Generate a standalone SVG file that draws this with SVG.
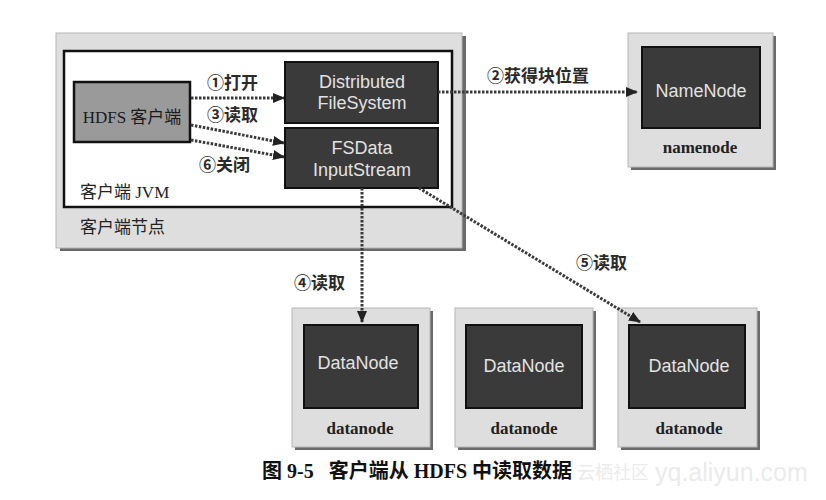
<svg xmlns="http://www.w3.org/2000/svg" width="826" height="500" viewBox="0 0 826 500">
<defs>
<marker id="ah" markerWidth="12" markerHeight="10" refX="11" refY="5" orient="auto" markerUnits="userSpaceOnUse">
<path d="M0,0 L12,5 L0,10 Z" fill="#222"/>
</marker>
<style>
.shadow{fill:#6a6a6a}
.machine{fill:#dedede;stroke:#b5b5b5;stroke-width:1}
.dark{fill:#3a3a3a;stroke:#111;stroke-width:2}
.dtxt{font-family:"Liberation Sans",Arial,sans-serif;font-size:18px;fill:#e2e2e2;text-anchor:middle}
.btxt{font-family:"Liberation Serif","Noto Sans CJK SC",serif;font-weight:bold;font-size:17px;fill:#222;text-anchor:middle}
.lbl{font-family:"Liberation Serif","Noto Sans CJK SC",serif;font-size:17px;font-weight:bold;fill:#2a2a2a}
.edge{fill:none;stroke:#3a3a3a;stroke-width:3;stroke-dasharray:2.5 1.5}
.wm{font-family:"Liberation Sans","Noto Sans CJK SC",sans-serif;fill:#ebebeb}
</style>
</defs>
<rect width="826" height="500" fill="#fff"/>

<g id="client-node">
<rect class="shadow" x="60" y="36" width="406" height="215"/>
<rect class="machine" x="56" y="33" width="406" height="215"/>
<text x="80" y="233" font-family="'Liberation Serif','Noto Sans CJK SC',serif" font-size="17" fill="#222">客户端节点</text>
</g>

<g id="client-jvm">
<rect x="64" y="51" width="388" height="156" fill="#fff" stroke="#111" stroke-width="2.5"/>
<text x="80" y="198" font-family="'Liberation Serif','Noto Sans CJK SC',serif" font-size="17" fill="#222">客户端 JVM</text>
</g>

<g id="hdfs-client">
<rect x="74" y="82" width="116" height="60" fill="#9a9a9a" stroke="#111" stroke-width="2.5"/>
<text x="132" y="123" font-family="Liberation Serif,'Noto Sans CJK SC',serif" font-size="17" fill="#1a1a1a" text-anchor="middle">HDFS 客户端</text>
</g>

<g id="distributed-fs">
<rect class="dark" x="285" y="62" width="153" height="61"/>
<text class="dtxt" x="362" y="88">Distributed</text>
<text class="dtxt" x="362" y="109">FileSystem</text>
</g>

<g id="fsdata-inputstream">
<rect class="dark" x="285" y="128" width="153" height="60"/>
<text class="dtxt" x="362" y="154">FSData</text>
<text class="dtxt" x="362" y="176">InputStream</text>
</g>

<g id="namenode">
<rect class="shadow" x="631" y="36" width="145" height="134"/>
<rect class="machine" x="628" y="33" width="145" height="134"/>
<rect class="dark" x="642" y="47" width="118" height="81"/>
<text class="dtxt" x="701" y="97">NameNode</text>
<text class="btxt" x="700" y="153">namenode</text>
</g>

<g id="datanode1">
<rect class="shadow" x="295" y="311" width="138" height="139"/>
<rect class="machine" x="292" y="308" width="138" height="139"/>
<rect class="dark" x="304" y="325" width="114" height="83"/>
<text class="dtxt" x="358" y="369">DataNode</text>
<text class="btxt" x="360" y="434">datanode</text>
</g>

<g id="datanode2">
<rect class="shadow" x="458" y="311" width="138" height="139"/>
<rect class="machine" x="455" y="308" width="138" height="139"/>
<rect class="dark" x="466" y="325" width="116" height="83"/>
<text class="dtxt" x="524" y="372">DataNode</text>
<text class="btxt" x="524" y="434">datanode</text>
</g>

<g id="datanode3">
<rect class="shadow" x="621" y="311" width="139" height="139"/>
<rect class="machine" x="618" y="308" width="139" height="139"/>
<rect class="dark" x="629" y="325" width="116" height="83"/>
<text class="dtxt" x="689" y="372">DataNode</text>
<text class="btxt" x="689" y="434">datanode</text>
</g>

<g id="connectors">
<line class="edge" x1="191" y1="98" x2="284" y2="98" marker-end="url(#ah)"/>
<line class="edge" x1="191" y1="125" x2="284" y2="143" marker-end="url(#ah)"/>
<line class="edge" x1="191" y1="140" x2="284" y2="157" marker-end="url(#ah)"/>
<line class="edge" x1="438" y1="92" x2="637" y2="92" marker-end="url(#ah)"/>
<line class="edge" x1="362" y1="188" x2="362" y2="322" marker-end="url(#ah)"/>
<line class="edge" x1="419" y1="188" x2="640" y2="322" marker-end="url(#ah)"/>
<text class="lbl" x="207" y="89">①打开</text>
<text class="lbl" x="207" y="121">③读取</text>
<text class="lbl" x="199" y="171">⑥关闭</text>
<text class="lbl" x="487" y="82">②获得块位置</text>
<text class="lbl" x="294" y="289">④读取</text>
<text class="lbl" x="576" y="269">⑤读取</text>
</g>

<text class="wm" x="577" y="479" font-size="18">云栖社区</text>
<text class="wm" x="655" y="481" font-size="25">yq.aliyun.com</text>
<text x="417" y="478" font-family="'Liberation Serif','Noto Sans CJK SC',serif" font-weight="bold" font-size="20" fill="#111" text-anchor="middle" xml:space="preserve">图 9-5   客户端从 HDFS 中读取数据</text>
</svg>
